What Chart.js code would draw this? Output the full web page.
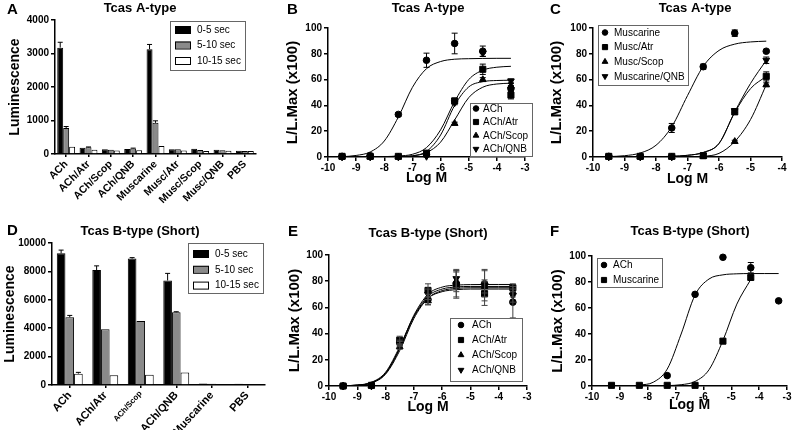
<!DOCTYPE html>
<html>
<head>
<meta charset="utf-8">
<script src="https://cdn.jsdelivr.net/npm/chart.js@4.4.1/dist/chart.umd.min.js"></script>
<style>
body { margin: 0; background: #fff; }
#fig { position: relative; width: 793px; height: 437px; overflow: hidden; }
#fig canvas { position: absolute; }
</style>
</head>
<body>
<div id="fig">
  <canvas id="cA" width="265" height="215" style="left:0;top:0"></canvas>
  <canvas id="cB" width="272" height="215" style="left:262px;top:0"></canvas>
  <canvas id="cC" width="266" height="215" style="left:527px;top:0"></canvas>
  <canvas id="cD" width="272" height="222" style="left:0;top:215px"></canvas>
  <canvas id="cE" width="272" height="222" style="left:262px;top:215px"></canvas>
  <canvas id="cF" width="266" height="222" style="left:527px;top:215px"></canvas>
</div>
<script>
// ---- panel A: Tcas A-type luminescence
const catsA = ['ACh', 'ACh/Atr', 'ACh/Scop', 'ACh/QNB', 'Muscarine', 'Musc/Atr', 'Musc/Scop', 'Musc/QNB', 'PBS'];
const a0to5 = [3175, 190, 140, 150, 3130, 140, 160, 130, 100];
const a0to5Err = [160, 0, 0, 0, 140, 0, 0, 0, 0];
const a5to10 = [775, 200, 125, 165, 930, 140, 120, 115, 90];
const a5to10Err = [45, 10, 0, 10, 60, 0, 0, 0, 0];
const a10to15 = [220, 125, 105, 115, 240, 105, 90, 100, 90];
const a10to15Err = [0, 0, 0, 0, 0, 0, 0, 0, 0];
const yTicksA = [0, 1000, 2000, 3000, 4000];

// ---- panel D: Tcas B-type (Short) luminescence
const catsD = ['ACh', 'ACh/Atr', 'ACh/Scop', 'ACh/QNB', 'Muscarine', 'PBS'];
const d0to5 = [9270, 8090, 8900, 7360, 100, 80];
const d0to5Err = [230, 300, 70, 500, 0, 0];
const d5to10 = [4770, 3920, 4500, 5120, 90, 70];
const d5to10Err = [130, 0, 0, 40, 0, 0];
const d10to15 = [800, 680, 720, 880, 70, 60];
const d10to15Err = [90, 0, 0, 0, 0, 0];
const yTicksD = [0, 2000, 4000, 6000, 8000, 10000];

// ---- dose-response tick labels
const respTicks = [0, 20, 40, 60, 80, 100];
const logTicks10to3 = [-10, -9, -8, -7, -6, -5, -4, -3];
const logTicks10to4 = [-10, -9, -8, -7, -6, -5, -4];

// ---- panel B: Tcas A-type, ACh with antagonists
const doseB = [-9.5, -8.5, -7.5, -6.5, -5.5, -4.5, -3.5];
const bAch = [0.5, 1, 33, 75, 88, 82, 53];
const bAchErr = [0, 1, 1.5, 5.5, 8, 4, 2.5];
const bAtr = [0.5, 0.5, 0.5, 3, 43.5, 68, 48];
const bAtrErr = [0, 0, 0, 1, 2, 4, 3];
const bScop = [0, 0, 0, 2, 26, 60, 55];
const bScopErr = [0, 0, 0, 0.5, 1, 1.5, 2];
const bQnb = [0, 0, 0, 0.5, 42, 80.5, 59];
const bQnbErr = [0, 0, 0, 0.5, 1.5, 2.5, 1.5];
const fitDoseB = [-9.5, -9, -8.5, -8, -7.5, -7, -6.5, -6, -5.5, -5, -4.5, -4, -3.5];
const bAchFit = [0.2, 1.2, 3.9, 12.4, 31, 54, 68.5, 74, 75.8, 76.2, 76.4, 76.5, 76.5];
const bAtrFit = [0, 0, 0.1, 0.3, 0.8, 2.1, 7.3, 21, 43, 60, 67.3, 69.6, 70.3];
const bScopFit = [0, 0, 0, 0.1, 0.2, 0.9, 3.4, 11.5, 28.7, 46, 54.1, 56.6, 57.2];
const bQnbFit = [0, 0, 0, 0.1, 0.2, 0.9, 4.3, 17, 40, 54.3, 58.4, 59.3, 59.5];

// ---- panel C: Tcas A-type, muscarine with antagonists
const doseC = [-9.5, -8.5, -7.5, -6.5, -5.5, -4.5];
const cMusc = [0.5, 0.5, 22.5, 70, 96, 82];
const cMuscErr = [0, 0, 3.5, 2, 2.5, 1];
const cAtr = [0.5, 0.5, 0.5, 1, 35, 62.5];
const cAtrErr = [0, 0, 0, 0.5, 2, 3.5];
const cScop = [0, 0, 0, 0.5, 12, 56];
const cScopErr = [0, 0, 0, 0, 1, 1.5];
const cQnb = [0, 0, 0, 1.5, 36, 75];
const cQnbErr = [0, 0, 0, 0.5, 1.5, 2.5];
const fitDoseC = [-9.5, -9, -8.5, -8, -7.5, -7, -6.5, -6, -5.5, -5, -4.5];
const cMuscFit = [0.3, 1, 3.1, 9.1, 23.5, 47.6, 70.3, 82.6, 87.5, 89.2, 89.8];
const cAtrFit = [0, 0, 0.1, 0.2, 0.5, 1.3, 3.5, 10.5, 34.5, 53, 62.5];
const cScopFit = [0, 0, 0, 0, 0, 0.2, 0.6, 2.8, 12, 29, 56];
const cQnbFit = [0, 0, 0.1, 0.2, 0.5, 1.3, 3.5, 10.5, 35, 57, 75];

// ---- panel E: Tcas B-type (Short), ACh with antagonists
const doseE = [-9.5, -8.5, -7.5, -6.5, -5.5, -4.5, -3.5];
const eAch = [0, 0.5, 33, 66, 78, 78, 64];
const eAchErr = [0, 0, 2, 4, 10, 10, 12];
const eAtr = [0, 0.5, 35, 73, 77, 70.5, 75];
const eAtrErr = [0, 0, 3, 5, 10, 9, 3];
const eScop = [0, 0, 30, 65, 80, 76, 72];
const eScopErr = [0, 0, 2, 3, 8, 5, 4];
const eQnb = [0, 0, 32, 70, 82, 77, 69];
const eQnbErr = [0, 0, 2, 4, 7, 12, 5];
const fitDoseE = [-9.5, -9, -8.5, -8, -7.5, -7, -6.5, -6, -5.5, -5, -4.5, -4, -3.5];
const eAchFit = [0.2, 0.7, 2.6, 9.8, 29, 54, 70, 75.5, 77, 77.4, 77.5, 77.5, 77.5];
const eAtrFit = [0.2, 0.7, 2.8, 10.5, 30, 53, 67, 72, 73.5, 74, 74, 74, 74];
const eScopFit = [0.1, 0.5, 2.2, 9, 27, 51.5, 67, 72.8, 74.5, 75, 75, 75, 75];
const eQnbFit = [0.2, 0.6, 2.5, 9.6, 28.5, 53, 68.5, 74, 75.6, 76, 76, 76, 76];

// ---- panel F: Tcas B-type (Short), ACh vs muscarine
const doseFAch = [-7.3, -6.3, -5.3, -4.3, -3.3];
const fAch = [8, 70.5, 99, 91, 65.5];
const fAchErr = [0, 0, 0, 4, 0];
const doseFMusc = [-9.3, -8.3, -7.3, -6.3, -5.3, -4.3];
const fMusc = [0.5, 0.5, 0.5, 0.5, 34.5, 83.5];
const fMuscErr = [0, 0, 0, 0, 1, 1.5];
const fitDoseFAch = [-8.3, -7.8, -7.3, -6.8, -6.3, -5.8, -5.3, -4.8, -4.3, -3.8, -3.3];
const fAchFit = [0.6, 2.9, 13, 40, 70, 82.3, 85.5, 86.3, 86.5, 86.5, 86.5];
const fitDoseFMusc = [-9.3, -8.8, -8.3, -7.8, -7.3, -6.8, -6.3, -5.8, -5.3, -4.8, -4.3];
const fMuscFit = [0, 0, 0, 0.1, 0.3, 1, 3.5, 12.5, 35, 63, 82];

const FAMILY = "'Liberation Sans', Arial, Helvetica, sans-serif";
Chart.defaults.font.family = FAMILY;
Chart.defaults.color = '#000';

function zip(xs, ys) {
    return xs.map((x, i) => ({ x: x, y: ys[i] }));
}

// error bars: bars get an upper whisker, points get both
const errorBars = {
    id: 'errorBars',
    afterDatasetsDraw(chart) {
        const ctx = chart.ctx;
        const yScale = chart.scales.y;
        const isBar = chart.config.type === 'bar';
        ctx.save();
        ctx.lineWidth = 1;
        chart.data.datasets.forEach((ds, i) => {
            if (!ds.errs) return;
            const meta = chart.getDatasetMeta(i);
            meta.data.forEach((el, j) => {
                const e = ds.errs[j];
                if (!e) return;
                const v = meta.controller.getParsed(j).y;
                const top = yScale.getPixelForValue(v + e);
                const bot = isBar ? el.y : yScale.getPixelForValue(v - e);
                const cap = isBar ? 2.5 : 3;
                ctx.strokeStyle = ds.errColor || '#000';
                ctx.beginPath();
                ctx.moveTo(el.x, bot);
                ctx.lineTo(el.x, top);
                ctx.moveTo(el.x - cap, top);
                ctx.lineTo(el.x + cap, top);
                if (!isBar) {
                    ctx.moveTo(el.x - cap, bot);
                    ctx.lineTo(el.x + cap, bot);
                }
                ctx.stroke();
            });
        });
        ctx.restore();
    }
};

// framed legend placed inside the figure
const boxLegend = {
    id: 'boxLegend',
    afterDraw(chart, args, o) {
        if (!o.w) return;
        const ctx = chart.ctx;
        const isBar = chart.config.type === 'bar';
        const items = chart.data.datasets.filter(ds => !ds.fit);
        ctx.save();
        ctx.strokeStyle = '#666';
        ctx.lineWidth = 1;
        ctx.strokeRect(o.x + 0.5, o.y + 0.5, o.w, o.h);
        ctx.font = '10px ' + FAMILY;
        ctx.textBaseline = 'middle';
        items.forEach((ds, k) => {
            const cy = o.y0 + k * o.dy;
            ctx.fillStyle = '#000';
            ctx.strokeStyle = '#000';
            if (isBar) {
                ctx.fillStyle = ds.backgroundColor;
                ctx.fillRect(o.sx - 8, cy - 3.5, 16, 7);
                ctx.strokeRect(o.sx - 8 + 0.5, cy - 3.5 + 0.5, 15, 7);
                ctx.fillStyle = '#000';
            } else {
                Chart.helpers.drawPoint(ctx, {
                    pointStyle: ds.pointStyle, rotation: ds.pointRotation || 0,
                    radius: ds.pointRadius * 0.85, borderWidth: 1
                }, o.sx, cy);
            }
            ctx.fillText(ds.label, o.tx, cy + 0.5);
        });
        ctx.restore();
    }
};

// panel letter and panel title
const heading = {
    id: 'heading',
    afterDraw(chart, args, o) {
        const ctx = chart.ctx;
        ctx.save();
        ctx.fillStyle = '#000';
        ctx.textBaseline = 'middle';
        ctx.font = 'bold 15px ' + FAMILY;
        ctx.textAlign = 'left';
        ctx.fillText(o.letter, o.lx, o.ly);
        ctx.font = 'bold 13px ' + FAMILY;
        ctx.textAlign = 'center';
        ctx.fillText(o.title, o.tx, o.ty);
        ctx.restore();
    }
};

const axisGrid = { drawOnChartArea: false, tickLength: 4, color: '#000', lineWidth: 1.5 };
const axisBorder = { color: '#000', width: 1.5 };
const tickFont = { size: 10, weight: 'bold' };
const plainNumber = v => String(v);

function barPanel(id, cats, series, o) {
    return new Chart(document.getElementById(id), {
        type: 'bar',
        data: {
            labels: cats,
            datasets: series.map(s => ({
                label: s.label,
                data: s.values,
                errs: s.errs,
                backgroundColor: s.color,
                borderColor: '#000',
                borderWidth: 1,
                barPercentage: 1,
                categoryPercentage: o.catPct
            }))
        },
        options: {
            responsive: false,
            animation: false,
            layout: { padding: o.pad },
            plugins: {
                legend: { display: false },
                tooltip: { enabled: false },
                boxLegend: o.legend,
                heading: o.head
            },
            scales: {
                x: {
                    grid: { offset: false, drawOnChartArea: false, tickLength: 3, color: '#000', lineWidth: 1.5 },
                    border: axisBorder,
                    ticks: {
                        minRotation: o.rot, maxRotation: o.rot, autoSkip: false, padding: 1,
                        font: c => ({ size: (o.smallLabel && c.tick && c.tick.label === o.smallLabel) ? 8 : o.xSize, weight: 'bold' })
                    },
                    afterFit: s => { s.height = o.xh; }
                },
                y: {
                    min: 0,
                    max: o.yTicks[o.yTicks.length - 1],
                    afterBuildTicks: s => { s.ticks = o.yTicks.map(v => ({ value: v })); },
                    grid: axisGrid,
                    border: axisBorder,
                    ticks: { font: tickFont, padding: 2, callback: plainNumber },
                    title: { display: true, text: 'Luminescence', font: { size: 14, weight: 'bold' }, padding: 0 },
                    afterFit: s => { s.width = o.yw; }
                }
            }
        },
        plugins: [errorBars, boxLegend, heading]
    });
}

const STYLE = {
    circle: { pointStyle: 'circle', pointRotation: 0, pointRadius: 3.3 },
    square: { pointStyle: 'rect', pointRotation: 0, pointRadius: 4.3 },
    up: { pointStyle: 'triangle', pointRotation: 0, pointRadius: 3.9 },
    down: { pointStyle: 'triangle', pointRotation: 180, pointRadius: 3.9 }
};

function dosePanel(id, series, fits, o) {
    const datasets = series.map(s => Object.assign({
        label: s.label,
        data: zip(s.x, s.y),
        errs: s.err,
        errColor: o.errColor,
        showLine: false,
        backgroundColor: '#000',
        borderColor: '#000',
        borderWidth: 1,
        clip: false
    }, STYLE[s.mark]));
    fits.forEach(f => datasets.push({
        fit: true,
        data: zip(f.x, f.y),
        showLine: true,
        pointRadius: 0,
        borderColor: '#000',
        borderWidth: 1,
        cubicInterpolationMode: 'monotone',
        fill: false
    }));
    return new Chart(document.getElementById(id), {
        type: 'scatter',
        data: { datasets: datasets },
        options: {
            responsive: false,
            animation: false,
            layout: { padding: o.pad },
            plugins: {
                legend: { display: false },
                tooltip: { enabled: false },
                boxLegend: o.legend,
                heading: o.head
            },
            scales: {
                x: {
                    type: 'linear',
                    min: o.xTicks[0],
                    max: o.xTicks[o.xTicks.length - 1],
                    afterBuildTicks: s => { s.ticks = o.xTicks.map(v => ({ value: v })); },
                    grid: axisGrid,
                    border: axisBorder,
                    ticks: { font: tickFont, padding: 1, callback: plainNumber },
                    title: { display: true, text: 'Log M', font: { size: 14, weight: 'bold' }, padding: 0 },
                    afterFit: s => { s.height = o.xh; }
                },
                y: {
                    min: 0,
                    max: 100,
                    afterBuildTicks: s => { s.ticks = respTicks.map(v => ({ value: v })); },
                    grid: axisGrid,
                    border: axisBorder,
                    ticks: { font: tickFont, padding: 2, callback: plainNumber },
                    title: { display: true, text: 'L/L.Max (x100)', font: { size: 15, weight: 'bold' }, padding: 0 },
                    afterFit: s => { s.width = o.yw; }
                }
            }
        },
        plugins: [errorBars, boxLegend, heading]
    });
}

// A
barPanel('cA', catsA, [
    { label: '0-5 sec', values: a0to5, errs: a0to5Err, color: '#000000' },
    { label: '5-10 sec', values: a5to10, errs: a5to10Err, color: '#8a8a8a' },
    { label: '10-15 sec', values: a10to15, errs: a10to15Err, color: '#ffffff' }
], {
    catPct: 0.8, yTicks: yTicksA, yw: 48, xh: 55, rot: 45, xSize: 10.5,
    pad: { left: 7, top: 20, right: 9, bottom: 6 },
    legend: { x: 170, y: 21, w: 75, h: 49, y0: 29.5, dy: 15.5, sx: 183, tx: 197 },
    head: { letter: 'A', lx: 7, ly: 10, title: 'Tcas A-type', tx: 140, ty: 8 }
});

// B
dosePanel('cB', [
    { label: 'ACh', x: doseB, y: bAch, err: bAchErr, mark: 'circle' },
    { label: 'ACh/Atr', x: doseB, y: bAtr, err: bAtrErr, mark: 'square' },
    { label: 'ACh/Scop', x: doseB, y: bScop, err: bScopErr, mark: 'up' },
    { label: 'ACh/QNB', x: doseB, y: bQnb, err: bQnbErr, mark: 'down' }
], [
    { x: fitDoseB, y: bAchFit }, { x: fitDoseB, y: bAtrFit },
    { x: fitDoseB, y: bScopFit }, { x: fitDoseB, y: bQnbFit }
], {
    xTicks: logTicks10to3, yw: 44, xh: 30,
    pad: { left: 22, top: 28, right: 9, bottom: 28 },
    legend: { x: 208, y: 103, w: 62, h: 53, y0: 108.5, dy: 13.5, sx: 214, tx: 221 },
    head: { letter: 'B', lx: 25, ly: 10, title: 'Tcas A-type', tx: 166, ty: 8 }
});

// C
dosePanel('cC', [
    { label: 'Muscarine', x: doseC, y: cMusc, err: cMuscErr, mark: 'circle' },
    { label: 'Musc/Atr', x: doseC, y: cAtr, err: cAtrErr, mark: 'square' },
    { label: 'Musc/Scop', x: doseC, y: cScop, err: cScopErr, mark: 'up' },
    { label: 'Muscarine/QNB', x: doseC, y: cQnb, err: cQnbErr, mark: 'down' }
], [
    { x: fitDoseC, y: cMuscFit }, { x: fitDoseC, y: cAtrFit },
    { x: fitDoseC, y: cScopFit }, { x: fitDoseC, y: cQnbFit }
], {
    xTicks: logTicks10to4, yw: 45, xh: 31,
    pad: { left: 21, top: 28, right: 11, bottom: 27 },
    legend: { x: 71, y: 25, w: 90, h: 60, y0: 32.5, dy: 14.6, sx: 78, tx: 87 },
    head: { letter: 'C', lx: 23, ly: 10, title: 'Tcas A-type', tx: 168, ty: 8 }
});

// D
barPanel('cD', catsD, [
    { label: '0-5 sec', values: d0to5, errs: d0to5Err, color: '#000000' },
    { label: '5-10 sec', values: d5to10, errs: d5to10Err, color: '#8a8a8a' },
    { label: '10-15 sec', values: d10to15, errs: d10to15Err, color: '#ffffff' }
], {
    catPct: 0.73, yTicks: yTicksD, yw: 50, xh: 45, rot: 48, xSize: 11, smallLabel: 'ACh/Scop',
    pad: { left: 2, top: 28, right: 7, bottom: 7 },
    legend: { x: 188, y: 28, w: 75, h: 50, y0: 38.5, dy: 15.8, sx: 201, tx: 215 },
    head: { letter: 'D', lx: 7, ly: 15.5, title: 'Tcas B-type (Short)', tx: 140, ty: 16.7 }
});

// E
dosePanel('cE', [
    { label: 'ACh', x: doseE, y: eAch, err: eAchErr, mark: 'circle' },
    { label: 'ACh/Atr', x: doseE, y: eAtr, err: eAtrErr, mark: 'square' },
    { label: 'ACh/Scop', x: doseE, y: eScop, err: eScopErr, mark: 'up' },
    { label: 'ACh/QNB', x: doseE, y: eQnb, err: eQnbErr, mark: 'down' }
], [
    { x: fitDoseE, y: eAchFit }, { x: fitDoseE, y: eAtrFit },
    { x: fitDoseE, y: eScopFit }, { x: fitDoseE, y: eQnbFit }
], {
    xTicks: logTicks10to3, yw: 43, xh: 30, errColor: '#444',
    pad: { left: 24, top: 40, right: 7, bottom: 21 },
    legend: { x: 188, y: 103, w: 72, h: 63, y0: 110, dy: 15, sx: 199, tx: 210 },
    head: { letter: 'E', lx: 26, ly: 16.5, title: 'Tcas B-type (Short)', tx: 166, ty: 18.3 }
});

// F
dosePanel('cF', [
    { label: 'ACh', x: doseFAch, y: fAch, err: fAchErr, mark: 'circle' },
    { label: 'Muscarine', x: doseFMusc, y: fMusc, err: fMuscErr, mark: 'square' }
], [
    { x: fitDoseFAch, y: fAchFit }, { x: fitDoseFMusc, y: fMuscFit }
], {
    xTicks: logTicks10to3, yw: 43, xh: 28,
    pad: { left: 22, top: 41, right: 6, bottom: 23 },
    legend: { x: 70, y: 43, w: 65, h: 29, y0: 50, dy: 15, sx: 77, tx: 86 },
    head: { letter: 'F', lx: 23, ly: 16.5, title: 'Tcas B-type (Short)', tx: 163, ty: 16.7 }
});
</script>
</body>
</html>
